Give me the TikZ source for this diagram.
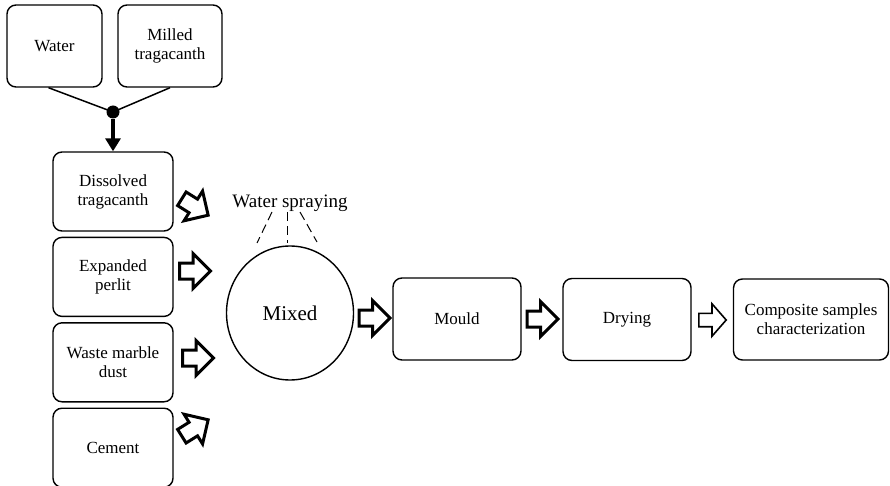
\documentclass[tikz,border=0pt]{standalone}
\usepackage{fontspec}
\setmainfont{Liberation Serif}
\usetikzlibrary{positioning, calc, shapes.geometric, arrows.meta}
\tikzstyle{Box} = [
draw,
line width=1.4pt,
rounded corners=9pt,
align=center,
inner sep=2pt,
font=\fontsize{17}{19}\selectfont]
\tikzstyle{ColBox} = [
Box,
minimum width=120pt,
minimum height=79pt]
\tikzstyle{RowBox} = [
Box,
minimum width=128pt,
minimum height=82pt]
\tikzstyle{Spray} = [
line width=1pt,
dash pattern=on 9pt off 5pt]
\tikzset{
  blockarrow/.pic={
    \draw [line width=3pt, miter limit=4]
      (-15.5,-8) -- (-2,-8) -- (-2,-17.5) -- (15.5,0) -- (-2,17.5) -- (-2,8) -- (-15.5,8) -- cycle;
  },
  thinarrow/.pic={
    \draw [line width=1.6pt, miter limit=4]
      (-13.7,-6.7) -- (-0.5,-6.7) -- (-0.5,-16.2) -- (13.7,0) -- (-0.5,16.2) -- (-0.5,6.7) -- (-13.7,6.7) -- cycle;
  }
}

\begin{document}
\begin{tikzpicture}[x=1pt, y=-1pt]
    \useasboundingbox (0,0) rectangle (890,486);

    \node [Box, minimum width=95pt, minimum height=82pt] (1) at (54.5,46) {Water};
    \node [Box, minimum width=104pt, minimum height=82pt] (2) at (170,46) {Milled\\tragacanth};
    \node [circle, fill, inner sep=0pt, minimum size=13pt] (3) at (113,112) {};
    \node [ColBox] (4) at (113,191.5) {Dissolved\\tragacanth};
    \node [ColBox, below=5pt of 4] (5) {Expanded\\perlit};
    \node [ColBox, below=5pt of 5] (6) {Waste marble\\dust};
    \node [ColBox, below=5pt of 6] (7) {Cement};

    \node [inner sep=0pt, font=\fontsize{19}{22}\selectfont] (8) at (290,203) {Water spraying};
    \node [ellipse, draw, line width=1.4pt, minimum width=127pt, minimum height=134pt,
           font=\fontsize{21}{24}\selectfont] (9) at (290,313) {Mixed};

    % block arrows into the mixer
    \pic (a1) [rotate=-32] at (195,207) {blockarrow};
    \pic (a2) at (195,271) {blockarrow};
    \pic (a3) at (198,358) {blockarrow};
    \pic (a4) [rotate=32] at (195,428) {blockarrow};

    % process line
    \pic (a5) at (374.5,318) {blockarrow};
    \node [RowBox] (10) at (457,319) {Mould};
    \pic (a6) at (542.5,319) {blockarrow};
    \node [RowBox] (11) at (627,319.5) {Drying};
    \pic (a7) at (712.5,320) {thinarrow};
    \node [Box, minimum width=155pt, minimum height=81pt] (12) at (811,319.5)
          {Composite samples\\characterization};

    \draw [line width=1.5pt] ($(1.south)+(-6,0)$) -- (3.center);
    \draw [line width=1.5pt] (2.south) -- (3.center);
    \draw [line width=4pt, -{Triangle[width=15pt, length=13pt]}] (3) -- (4);

    \draw [Spray] ($(9)+(-18,-101)$) -- ($(9)+(-33,-70)$);
    \draw [Spray] ($(9)+(-3,-101)$) -- ($(9)+(-3,-70)$);
    \draw [Spray] ($(9)+(10,-101)$) -- ($(9)+(27,-71)$);
\end{tikzpicture}
\end{document}
